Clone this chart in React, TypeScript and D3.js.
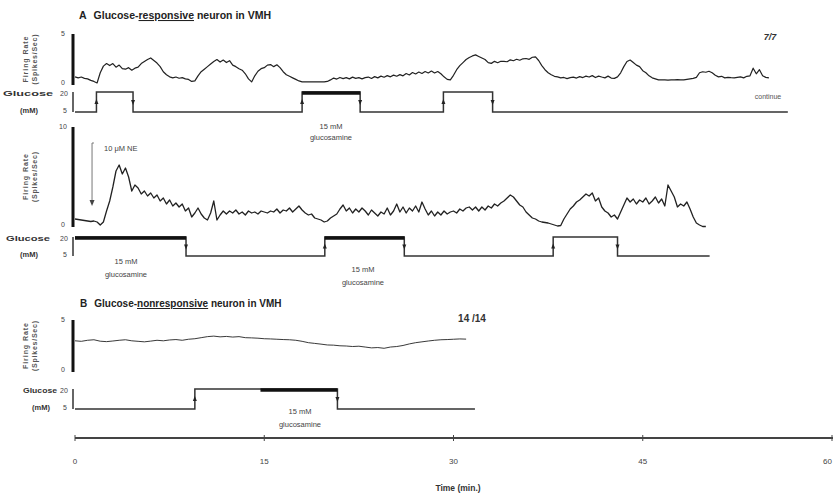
import React from 'react';
import * as d3 from 'd3';

// ---------- DATA ----------
const timeTicks = [0, 15, 30, 45, 60];

// Firing rate (spikes/sec), panel A upper trace, one value every 0.25 min from t = 0
const rateA1Step = 0.25;
const rateA1 = [
  0.8, 0.7, 0.78, 0.65, 0.6, 0.45, 0.35, 0.2,
  1.2, 1.85, 2.1, 1.9, 2.1, 1.75, 1.95, 1.6,
  1.55, 1.7, 1.45, 1.65, 1.75, 2.1, 2.3, 2.5,
  2.65, 2.4, 2.15, 1.8, 1.3, 1.0, 0.8, 0.7,
  0.78, 0.66, 0.72, 0.6, 0.55, 0.35, 0.4, 0.9,
  1.3, 1.55, 1.8, 2.05, 2.3, 2.5, 2.25, 2.45,
  2.2, 2.38, 1.95, 1.8, 1.6, 1.45, 1.1, 0.6,
  0.3, 0.9, 1.35, 1.6, 1.7, 1.95, 2.0, 1.8,
  1.98, 1.7, 1.3, 1.0, 0.85, 0.7, 0.55, 0.4,
  0.3, 0.3, 0.3, 0.3, 0.3, 0.32, 0.3, 0.3,
  0.35, 0.5, 0.68, 0.58, 0.74, 0.62, 0.72, 0.6,
  0.77, 0.65, 0.72, 0.6, 0.72, 0.78, 0.64, 0.82,
  0.7, 0.87, 0.76, 0.92, 0.8, 0.97, 0.86, 1.02,
  0.9, 1.12, 0.98, 1.22, 1.08, 1.27, 1.13, 1.32,
  1.18, 1.37, 1.18, 1.32, 1.1, 0.8, 0.55, 0.5,
  0.95, 1.5, 1.9, 2.2, 2.5, 2.7, 2.85, 2.95,
  2.8, 2.65, 2.5, 2.2, 2.12, 2.32, 2.18, 2.33,
  2.32, 2.28, 2.47, 2.38, 2.52, 2.43, 2.57, 2.6,
  2.52, 2.72, 2.75, 2.4, 1.9, 1.5, 1.2, 1.0,
  0.85, 0.8, 0.7, 0.74, 0.63, 0.72, 0.77, 0.68,
  0.82, 0.73, 0.87, 0.78, 0.92, 0.73, 0.87, 0.78,
  0.7, 0.87, 0.68, 0.65, 0.8, 1.2, 1.8, 2.3,
  2.45, 2.2, 1.95, 1.8, 1.4, 1.2, 0.9, 0.7,
  0.6, 0.5, 0.5, 0.5, 0.48, 0.5, 0.5, 0.52,
  0.5, 0.5, 0.55, 0.6, 0.65, 0.75, 1.2, 1.3,
  1.25, 1.35, 1.2, 0.95, 0.8, 0.85, 0.7, 0.75,
  0.72, 0.7, 0.75, 0.8, 0.7, 0.85, 0.9, 1.65,
  1.1, 1.5, 0.9, 0.75, 0.7,
];

// Firing rate, panel A lower trace, every 0.25 min
const rateA2Step = 0.25;
const rateA2 = [
  0.8, 0.75, 0.7, 0.65, 0.6, 0.55, 0.6, 0.5,
  0.2, 0.5, 1.6, 2.6, 4.0, 5.6, 6.2, 5.3,
  5.9, 5.0, 3.6, 4.2, 3.9, 3.3, 3.6, 3.1,
  3.4, 2.9, 3.2, 2.6, 2.9, 2.3, 2.7, 2.1,
  2.4, 2.0, 2.3, 1.6, 1.9, 1.0, 1.4, 1.9,
  1.3, 0.9, 0.7, 1.4, 2.6, 0.7, 1.2, 1.6,
  1.3, 1.6, 1.4, 1.7, 1.3, 1.5, 1.2, 1.6,
  1.4, 1.5, 1.3, 1.6, 1.5, 1.4, 1.6, 1.5,
  1.8, 1.4, 1.7, 1.6, 1.9, 1.5, 1.8, 2.1,
  1.7, 1.4, 1.2, 1.3, 0.9, 0.8, 0.7, 0.5,
  0.6, 0.9, 1.1, 1.3, 1.8, 2.2, 1.6, 1.9,
  1.4, 1.8, 1.5, 1.9, 1.6, 1.2, 1.7, 1.4,
  1.1, 1.5, 1.3, 1.9, 1.2, 1.6, 2.3, 1.5,
  2.0, 1.4, 1.9, 1.6, 2.1, 1.5, 2.5, 1.8,
  1.2, 1.6, 1.1, 1.5, 1.2, 1.6, 1.3, 1.5,
  1.6, 1.4, 1.8, 1.6, 1.9, 2.0, 1.7, 2.0,
  1.6, 2.0, 1.7, 2.1, 1.9, 2.3, 2.1, 2.4,
  2.6, 2.9, 3.2, 3.0, 2.6, 2.2, 2.0, 1.5,
  1.2, 0.9, 0.8, 0.6, 0.5, 0.45, 0.4, 0.3,
  0.2, 0.1, 0.15, 0.8, 1.3, 1.8, 2.1, 2.5,
  2.7, 3.0, 3.3, 3.1, 3.4, 2.6, 2.9, 2.0,
  1.6, 1.4, 1.0, 1.2, 0.8, 1.5, 2.2, 2.9,
  2.5, 2.8, 2.3, 2.7, 2.5, 2.9, 2.3, 2.6,
  3.0, 2.4, 2.8, 2.1, 4.2, 3.6, 3.0, 2.0,
  2.3, 2.1, 2.5, 1.8, 1.0, 0.4, 0.2, 0.05,
  0.05,
];

// Firing rate, panel B, every 0.5 min
const rateBStep = 0.5;
const rateB = [
  3.0, 2.95, 3.05, 3.1, 2.96, 2.92, 2.98, 3.05,
  3.1, 3.0, 2.95, 2.9, 2.97, 3.05, 3.0, 3.08,
  3.12, 3.05, 3.15, 3.2, 3.3, 3.4, 3.45, 3.38,
  3.42, 3.36, 3.4, 3.3, 3.28, 3.25, 3.2, 3.18,
  3.15, 3.12, 3.1, 3.05, 2.95, 2.82, 2.75, 2.68,
  2.6, 2.58, 2.52, 2.5, 2.45, 2.48, 2.4, 2.32,
  2.35, 2.28, 2.4, 2.45, 2.55, 2.7, 2.82, 2.9,
  2.98, 3.05, 3.1, 3.12, 3.15, 3.18, 3.16,
];

// Glucose protocol (mM): change times (min), level per segment, glucosamine flag per segment
const glucA1Times = [0, 1.7, 4.6, 18.0, 22.6, 29.2, 33.1, 56.5];
const glucA1Levels = [5, 20, 5, 20, 5, 20, 5];
const glucA1Glucosamine = [0, 0, 0, 1, 0, 0, 0];

const glucA2Times = [0, 8.8, 19.8, 26.1, 37.9, 43.0, 50.3];
const glucA2Levels = [20, 5, 20, 5, 20, 5];
const glucA2Glucosamine = [1, 0, 1, 0, 0, 0];

const glucBTimes = [0, 9.5, 14.7, 20.8, 31.7];
const glucBLevels = [5, 20, 20, 5];
const glucBGlucosamine = [0, 0, 1, 0];

// ---------- LAYOUT ----------
const W = 833;
const H = 493;
const FONT = 'Liberation Sans, Arial, Helvetica, sans-serif';
const INK = '#222';

const x = d3.scaleLinear().domain([0, 60]).range([75, 832]);

type PanelCfg = {
  rate: number[];
  step: number;
  rateMax: number;
  rateTop: number;
  rateBottom: number;
  glucHigh: number;
  glucLow: number;
  gTimes: number[];
  gLevels: number[];
  gThick: number[];
  lw: number;
  gx: number;
  gw: number;
};

const panels: PanelCfg[] = [
  { rate: rateA1, step: rateA1Step, rateMax: 5, rateTop: 34, rateBottom: 85, glucHigh: 92, glucLow: 112,
    gTimes: glucA1Times, gLevels: glucA1Levels, gThick: glucA1Glucosamine, lw: 1.2, gx: 28, gw: 50 },
  { rate: rateA2, step: rateA2Step, rateMax: 10, rateTop: 127, rateBottom: 227, glucHigh: 237, glucLow: 256,
    gTimes: glucA2Times, gLevels: glucA2Levels, gThick: glucA2Glucosamine, lw: 1.3, gx: 28, gw: 44 },
  { rate: rateB, step: rateBStep, rateMax: 5, rateTop: 320, rateBottom: 372, glucHigh: 389, glucLow: 409,
    gTimes: glucBTimes, gLevels: glucBLevels, gThick: glucBGlucosamine, lw: 0.9, gx: 40, gw: 34 },
];

function Panel({ p }: { p: PanelCfg }) {
  const y = d3.scaleLinear().domain([0, p.rateMax]).range([p.rateBottom, p.rateTop]);
  const gy = d3.scaleLinear().domain([5, 20]).range([p.glucLow, p.glucHigh]);
  const pts: [number, number][] = p.rate.map((v, i) => [i * p.step, v]);
  const line = d3.line<[number, number]>().x((d) => x(d[0])).y((d) => y(d[1]));

  const gPts: [number, number][] = p.gLevels.map((l, i) => [p.gTimes[i], l]);
  gPts.push([p.gTimes[p.gTimes.length - 1], p.gLevels[p.gLevels.length - 1]]);
  const gLine = d3.line<[number, number]>().x((d) => x(d[0])).y((d) => gy(d[1])).curve(d3.curveStepAfter);

  const edges: { t: number; up: boolean }[] = [];
  for (let i = 1; i < p.gLevels.length; i++) {
    if (p.gLevels[i] !== p.gLevels[i - 1]) edges.push({ t: p.gTimes[i], up: p.gLevels[i] > p.gLevels[i - 1] });
  }

  const rateLabelCy = (p.rateTop + p.rateBottom) / 2;
  return (
    <g>
      <line x1={73} x2={73} y1={p.rateTop} y2={p.rateBottom} stroke="#111" strokeWidth={3} />
      <text x={63} y={p.rateTop + 2} fontSize={7} textAnchor="middle" fill="#444" fontFamily={FONT}>{p.rateMax}</text>
      <text x={63} y={p.rateBottom} fontSize={7} textAnchor="middle" fill="#444" fontFamily={FONT}>0</text>
      <g transform={`translate(28,${rateLabelCy}) rotate(-90)`}>
        <text x={0} y={0} fontSize={7} textAnchor="middle" fill="#555" fontFamily={FONT} fontWeight="bold"
          textLength={46} lengthAdjust="spacing">Firing  Rate</text>
        <text x={0} y={9} fontSize={7} textAnchor="middle" fill="#555" fontFamily={FONT} fontWeight="bold"
          textLength={50} lengthAdjust="spacing">(Spikes/Sec)</text>
      </g>
      <path d={line(pts) || ''} fill="none" stroke={INK} strokeWidth={p.lw} strokeLinejoin="round" />
      <line x1={73} x2={73} y1={p.glucHigh} y2={p.glucLow} stroke="#333" strokeWidth={1.5} />
      <text x={p.gx} y={gy(20) + 4} fontSize={8} textAnchor="middle" fill="#333" fontWeight="bold" fontFamily={FONT}
        textLength={p.gw} lengthAdjust="spacingAndGlyphs">Glucose</text>
      <text x={p.gx + 1} y={gy(5) + 1} fontSize={7.5} textAnchor="middle" fill="#333" fontWeight="bold" fontFamily={FONT}>(mM)</text>
      <text x={64} y={gy(20) + 4} fontSize={7} textAnchor="middle" fill="#444" fontFamily={FONT}>20</text>
      <text x={65} y={gy(5) + 1} fontSize={7} textAnchor="middle" fill="#444" fontFamily={FONT}>5</text>
      <path d={gLine(gPts) || ''} fill="none" stroke="#333" strokeWidth={1.5} />
      {p.gLevels.map((l, i) =>
        p.gThick[i] ? (
          <line key={i} x1={x(p.gTimes[i])} x2={x(p.gTimes[i + 1])} y1={gy(l) + 1} y2={gy(l) + 1}
            stroke="#111" strokeWidth={3.5} />
        ) : null
      )}
      {edges.map((e, i) => {
        const cx = x(e.t);
        const cy = (p.glucHigh + p.glucLow) / 2;
        const d = e.up ? -1 : 1;
        return (
          <path key={i} d={`M${cx - 2},${cy - 2 * d} L${cx + 2},${cy - 2 * d} L${cx},${cy + 3 * d} Z`} fill="#222" />
        );
      })}
    </g>
  );
}

export default function App() {
  return (
    <svg width={W} height={H} style={{ position: 'absolute', left: 0, top: 0, background: '#fff' }}
      fontFamily={FONT}>
      <rect x={0} y={0} width={W} height={H} fill="#fff" />
      <text x={79} y={19} fontSize={10.5} fontWeight="bold" fill="#222">
        A<tspan dx={7}>Glucose-</tspan><tspan textDecoration="underline">responsive</tspan><tspan> neuron in VMH</tspan>
      </text>
      <text x={80} y={307} fontSize={10} fontWeight="bold" fill="#222">
        B<tspan dx={7}>Glucose-</tspan><tspan textDecoration="underline">nonresponsive</tspan><tspan> neuron in VMH</tspan>
      </text>

      {panels.map((p, i) => <Panel key={i} p={p} />)}

      <text x={770} y={40} fontSize={9} fontWeight="bold" fill="#333" textAnchor="middle" fontStyle="italic">7/7</text>
      <text x={768} y={99} fontSize={7} fill="#555" textAnchor="middle">continue</text>
      <text x={472} y={322} fontSize={10} fontWeight="bold" fill="#333" textAnchor="middle">14 /14</text>

      <text x={331} y={129} fontSize={7.5} fill="#444" textAnchor="middle">15 mM</text>
      <text x={331} y={140} fontSize={7.5} fill="#444" textAnchor="middle">glucosamine</text>
      <text x={126} y={264} fontSize={7.5} fill="#444" textAnchor="middle">15 mM</text>
      <text x={126} y={277} fontSize={7.5} fill="#444" textAnchor="middle">glucosamine</text>
      <text x={363} y={272} fontSize={7.5} fill="#444" textAnchor="middle">15 mM</text>
      <text x={363} y={285} fontSize={7.5} fill="#444" textAnchor="middle">glucosamine</text>
      <text x={300} y={414} fontSize={7.5} fill="#444" textAnchor="middle">15 mM</text>
      <text x={300} y={427} fontSize={7.5} fill="#444" textAnchor="middle">glucosamine</text>

      <path d={`M${x(1.5)},143 L${x(1.35)},143 L${x(1.35)},200`} fill="none" stroke="#777" strokeWidth={1} />
      <path d={`M${x(1.35) - 2.5},200 L${x(1.35) + 2.5},200 L${x(1.35)},206 Z`} fill="#444" />
      <text x={104} y={151} fontSize={7.5} fill="#444">10 μM NE</text>

      <line x1={x(0)} x2={W} y1={438} y2={438} stroke="#444" strokeWidth={1.8} />
      {timeTicks.map((t, i) => (
        <g key={t}>
          <line x1={x(t)} x2={x(t)} y1={435} y2={441} stroke="#444" strokeWidth={1} />
          <text x={i === timeTicks.length - 1 ? W - 1 : x(t)} y={464} fontSize={8} fill="#444"
            textAnchor={i === timeTicks.length - 1 ? 'end' : 'middle'}>{t}</text>
        </g>
      ))}
      <text x={458} y={491} fontSize={8.5} fontWeight="bold" fill="#333" textAnchor="middle">Time (min.)</text>
    </svg>
  );
}
